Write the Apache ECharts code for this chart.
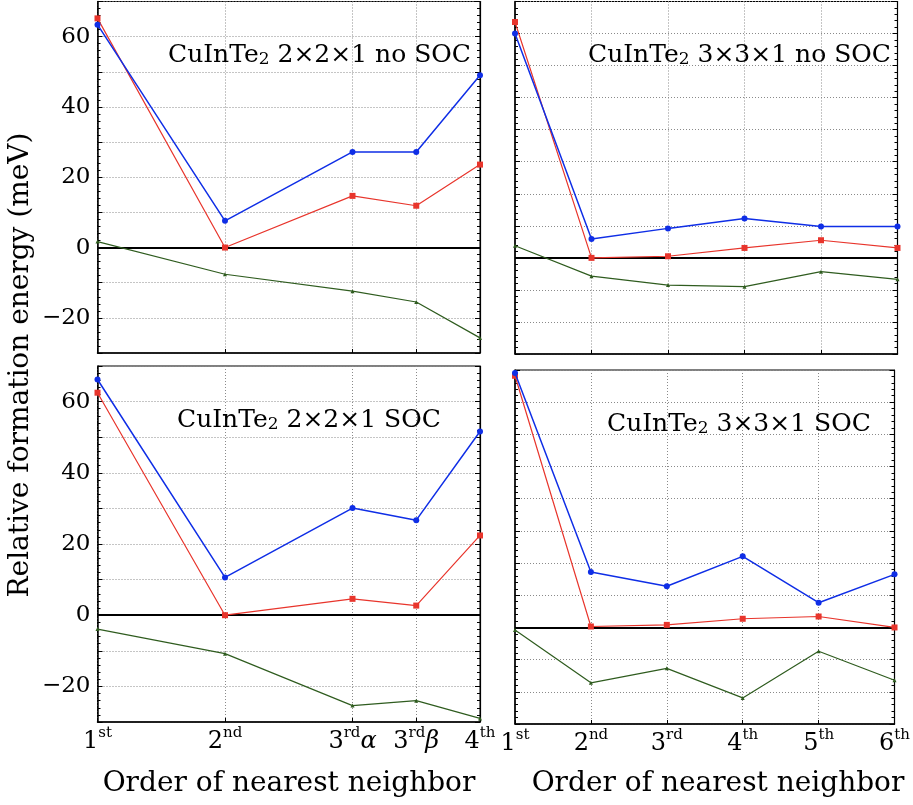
<!DOCTYPE html>
<html>
<head>
<meta charset="utf-8">
<script src="https://cdn.jsdelivr.net/npm/echarts@6/dist/echarts.min.js"></script>
<style>
html,body{margin:0;padding:0;background:#fff;}
#chart{width:913px;height:805px;}
</style>
</head>
<body>
<div id="chart"></div>
<script>
// ---------- data ----------
const xLeft = [1, 2, 3, 3.5, 4];
const xLeftLabels = ['1st', '2nd', '3rdα', '3rdβ', '4th'];
const xRight = [1, 2, 3, 4, 5, 6];
const xRightLabels = ['1st', '2nd', '3rd', '4th', '5th', '6th'];

const panelTitles = ['CuInTe2 2×2×1 no SOC', 'CuInTe2 3×3×1 no SOC', 'CuInTe2 2×2×1 SOC', 'CuInTe2 3×3×1 SOC'];
const yTitle = 'Relative formation energy (meV)';
const xTitle = 'Order of nearest neighbor';

// 2x2x1 no SOC
const nosoc221Blue  = [63.4, 7.6, 27.2, 27.2, 49.0];
const nosoc221Red   = [65.2, 0.0, 14.7, 11.9, 23.6];
const nosoc221Green = [1.7, -7.6, -12.4, -15.5, -25.7];
// 3x3x1 no SOC
const nosoc331Blue  = [70.0, 5.9, 9.2, 12.3, 9.8, 9.8];
const nosoc331Red   = [73.6, 0.0, 0.5, 3.1, 5.5, 3.1];
const nosoc331Green = [3.8, -5.7, -8.5, -9.0, -4.3, -6.7];
// 2x2x1 SOC
const soc221Blue  = [66.2, 10.6, 30.1, 26.7, 51.6];
const soc221Red   = [62.5, 0.0, 4.6, 2.7, 22.4];
const soc221Green = [-3.9, -10.8, -25.4, -24.0, -29.0];
// 3x3x1 SOC
const soc331Blue  = [79.1, 17.2, 12.8, 22.1, 7.7, 16.5];
const soc331Red   = [78.2, 0.3, 0.8, 2.7, 3.4, 0.0];
const soc331Green = [-0.8, -17.2, -12.7, -21.9, -7.4, -16.4];

// ---------- styles ----------
const FONT = '"DejaVu Serif", "Liberation Serif", serif';
const BLUE = '#0f2ee6', RED = '#e8352c', GREEN = '#2f5c1f';

const grids = [
  {left: 97.5, top: 1.5, width: 382.5, height: 351.5},
  {left: 515, top: 1.5, width: 382.5, height: 352.5},
  {left: 97.5, top: 366, width: 382.5, height: 356},
  {left: 515, top: 370, width: 383, height: 354}
];
const yRanges = [[-30, 70], [-30, 80], [-30, 70], [-30, 80]];

function tickRich(lbl) {
  const m = lbl.match(/^(\d)(st|nd|rd|th)(.*)$/);
  let s = '{b|' + m[1] + '}{s|' + m[2] + '}';
  if (m[3]) s += '{g|' + m[3] + '}';
  return s;
}
const tickRichStyle = {
  b: {fontFamily: FONT, fontSize: 24, lineHeight: 28, color: '#000', verticalAlign: 'bottom'},
  s: {fontFamily: FONT, fontSize: 15, lineHeight: 19, color: '#000', verticalAlign: 'top'},
  g: {fontFamily: FONT, fontSize: 24, lineHeight: 28, color: '#000', fontStyle: 'italic', verticalAlign: 'bottom'}
};

const xAxes = [], yAxes = [], series = [], titles = [];
const panelData = [
  [xLeft, xLeftLabels, nosoc221Blue, nosoc221Red, nosoc221Green],
  [xRight, xRightLabels, nosoc331Blue, nosoc331Red, nosoc331Green],
  [xLeft, xLeftLabels, soc221Blue, soc221Red, soc221Green],
  [xRight, xRightLabels, soc331Blue, soc331Red, soc331Green]
];
const titlePos = [[168, 38], [588, 38], [177, 403], [607, 407]];

panelData.forEach((p, i) => {
  const [xs, xl, b, r, g] = p;
  const bottomRow = i >= 2;
  xAxes.push({
    gridIndex: i, type: 'value', min: xs[0], max: xs[xs.length - 1],
    axisLine: {show: true, onZero: false, lineStyle: {color: '#000', width: 1.5}},
    axisTick: {show: true, inside: true, length: 4, customValues: xs, lineStyle: {color: '#000'}},
    axisLabel: {
      show: bottomRow, customValues: xs, margin: 4,
      formatter: v => { const k = xs.indexOf(v); return k < 0 ? '' : tickRich(xl[k]); },
      rich: tickRichStyle
    },
    splitLine: {show: true, lineStyle: {color: '#8a8a8a', type: [1, 2], width: 1}}
  });
  const [ymin, ymax] = yRanges[i];
  yAxes.push({
    gridIndex: i, type: 'value', min: ymin, max: ymax, interval: 10, position: 'left',
    axisLine: {show: true, onZero: false, lineStyle: {color: '#000', width: 1.5}},
    axisTick: {show: true, inside: true, length: 5, lineStyle: {color: '#000'}},
    minorTick: {show: true, splitNumber: 5, length: 3, lineStyle: {color: '#000'}},
    axisLabel: {
      show: i % 2 === 0, margin: 7, fontFamily: FONT, fontSize: 23, color: '#000',
      formatter: v => (v % 20 === 0 ? (v < 0 ? '\u2212' + (-v) : String(v)) : '')
    },
    splitLine: {show: true, lineStyle: {color: '#8a8a8a', type: [1, 2], width: 1}}
  });
  yAxes.push({
    gridIndex: i, type: 'value', min: ymin, max: ymax, interval: 10, position: 'right',
    axisLine: {show: true, onZero: false, lineStyle: {color: '#000', width: 1.2}},
    axisTick: {show: true, inside: true, length: 5, lineStyle: {color: '#000'}},
    minorTick: {show: true, splitNumber: 5, length: 3, lineStyle: {color: '#000'}},
    axisLabel: {show: false},
    splitLine: {show: false}
  });
  const yi = yAxes.length - 2;
  const mk = (vals) => xs.map((x, k) => [x, vals[k]]);
  series.push({
    type: 'line', xAxisIndex: i, yAxisIndex: yi, data: mk(g),
    symbol: 'triangle', symbolSize: 4, z: 3,
    lineStyle: {color: GREEN, width: 1.2}, itemStyle: {color: GREEN},
    markLine: {
      silent: true, symbol: 'none', label: {show: false}, z: 2,
      lineStyle: {color: '#000', width: 2, type: 'solid'},
      data: [{yAxis: 0}]
    }
  });
  series.push({
    type: 'line', xAxisIndex: i, yAxisIndex: yi, data: mk(r),
    symbol: 'rect', symbolSize: 6, z: 4,
    lineStyle: {color: RED, width: 1.2}, itemStyle: {color: RED}
  });
  series.push({
    type: 'line', xAxisIndex: i, yAxisIndex: yi, data: mk(b),
    symbol: 'circle', symbolSize: 6, z: 5,
    lineStyle: {color: BLUE, width: 1.5}, itemStyle: {color: BLUE}
  });
  titles.push({
    left: titlePos[i][0], top: titlePos[i][1], padding: 0,
    text: panelTitles[i].replace(/^(CuInTe)2(.*)$/, '{t|$1}{sub|2}{t|$2}'),
    textStyle: {
      fontWeight: 'normal',
      rich: {
        t: {fontFamily: FONT, fontSize: 25, fontWeight: 'normal', lineHeight: 30, color: '#000', verticalAlign: 'bottom'},
        sub: {fontFamily: FONT, fontSize: 17, fontWeight: 'normal', lineHeight: 18, color: '#000', verticalAlign: 'bottom'}
      }
    }
  });
});

const chart = echarts.init(document.getElementById('chart'), null, {renderer: 'canvas'});
chart.setOption({
  animation: false,
  backgroundColor: '#fff',
  title: titles,
  grid: grids.map(g => Object.assign({show: true, borderColor: '#000', borderWidth: 1, containLabel: false}, g)),
  xAxis: xAxes,
  yAxis: yAxes,
  series: series,
  graphic: [
    {type: 'text', x: 21, y: 365, rotation: Math.PI / 2,
     style: {text: yTitle, font: '28px ' + FONT, fill: '#000', align: 'center', verticalAlign: 'middle'}},
    {type: 'text', x: 289, y: 784,
     style: {text: xTitle, font: '28px ' + FONT, fill: '#000', align: 'center', verticalAlign: 'middle'}},
    {type: 'text', x: 718, y: 784,
     style: {text: xTitle, font: '28px ' + FONT, fill: '#000', align: 'center', verticalAlign: 'middle'}}
  ]
});
</script>
</body>
</html>
